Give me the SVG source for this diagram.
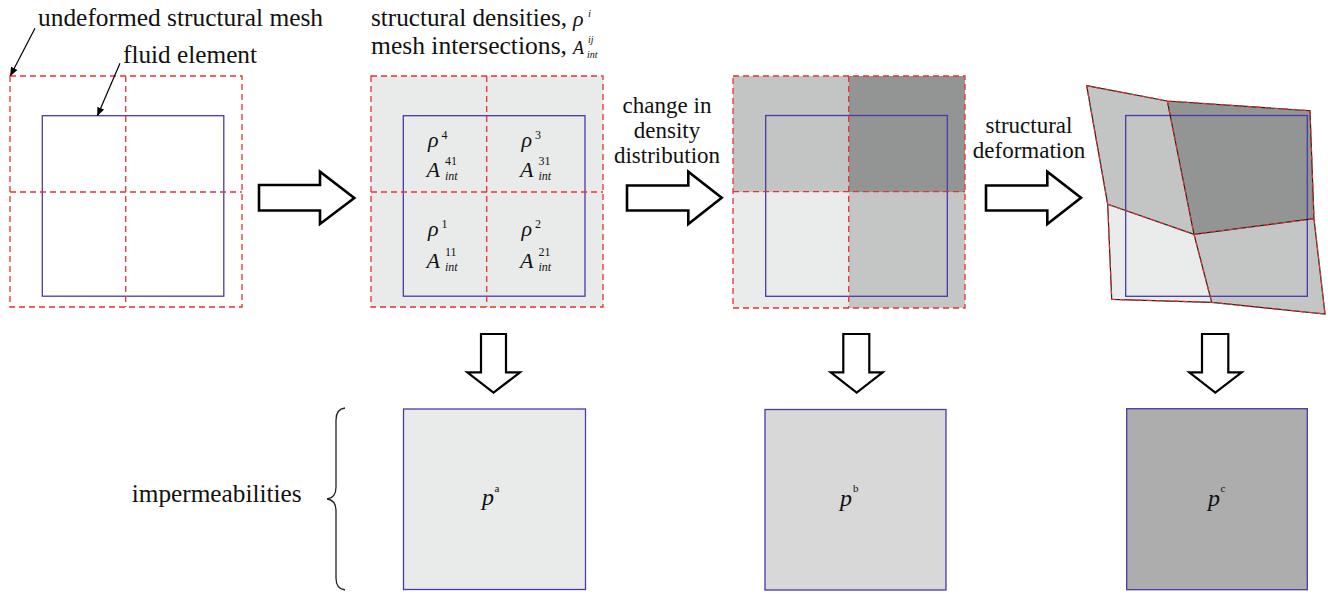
<svg xmlns="http://www.w3.org/2000/svg" width="1328" height="594" viewBox="0 0 1328 594">
<style>
text{font-family:'Liberation Serif','Times New Roman',serif;fill:#111}
.lbl{font-size:25px}
.mid{font-size:23px}
.it{font-style:italic}
.red{fill:none;stroke:#e8322e;stroke-width:1.3;stroke-dasharray:6 4}
.blue{fill:none;stroke:#4a3aa8;stroke-width:1.3}
.edge{fill:none;stroke:#222;stroke-width:1.2}
.edgered{fill:none;stroke:#e8322e;stroke-width:1.2;stroke-dasharray:5 4}
.bigarrow{fill:#fff;stroke:#000;stroke-width:2.6;stroke-linejoin:miter}
.downarrow{fill:#fff;stroke:#000;stroke-width:2.2;stroke-linejoin:miter}
.sym{font-size:22px;font-style:italic}
.sup{font-size:12px}
</style>
<defs>
<marker id="ah" viewBox="0 0 10 10" refX="9" refY="5" markerWidth="9" markerHeight="9" orient="auto" markerUnits="userSpaceOnUse">
<path d="M0,1 L10,5 L0,9 z" fill="#000"/>
</marker>
</defs>
<rect width="1328" height="594" fill="#fff"/>

<g id="panel1">
<rect class="blue" x="42.3" y="115.7" width="181.5" height="180.5"/>
<rect class="red" x="10" y="76" width="232" height="231"/>
<line class="red" x1="125.7" y1="76" x2="125.7" y2="307"/>
<line class="red" x1="10" y1="192" x2="242" y2="192"/>
<text class="lbl" x="38" y="26" textLength="285" lengthAdjust="spacingAndGlyphs">undeformed structural mesh</text>
<text class="lbl" x="123" y="63" textLength="134" lengthAdjust="spacingAndGlyphs">fluid element</text>
</g>

<g id="panel2">
<rect x="371" y="76" width="232" height="231" fill="#e9eaea"/>
<rect class="blue" x="403.3" y="115.7" width="181.7" height="180.5"/>
<rect class="red" x="371" y="76" width="232" height="231"/>
<line class="red" x1="486.7" y1="76" x2="486.7" y2="307"/>
<line class="red" x1="371" y1="192" x2="603" y2="192"/>
<text class="lbl" x="371" y="26" textLength="196" lengthAdjust="spacingAndGlyphs">structural densities,</text>
<text class="sym" x="573" y="26">ρ</text>
<text class="it" x="588" y="17" font-size="11">i</text>
<text class="lbl" x="371" y="54" textLength="196" lengthAdjust="spacingAndGlyphs">mesh intersections,</text>
<text class="it" x="573" y="54" font-size="18">A</text>
<text class="it" x="588" y="43" font-size="10">ij</text>
<text class="it" x="587" y="58" font-size="10">int</text>

<text class="sym" x="428" y="147">ρ</text>
<text class="sup" x="441.5" y="139">4</text>
<text class="it" x="426.5" y="177" font-size="22">A</text>
<text class="sup" x="445" y="165">41</text>
<text class="it" x="445" y="180" font-size="12">int</text>

<text class="sym" x="521.5" y="147">ρ</text>
<text class="sup" x="535" y="139">3</text>
<text class="it" x="520" y="177" font-size="22">A</text>
<text class="sup" x="538.5" y="165">31</text>
<text class="it" x="538.5" y="180" font-size="12">int</text>

<text class="sym" x="428" y="236">ρ</text>
<text class="sup" x="441.5" y="228">1</text>
<text class="it" x="426.5" y="268" font-size="22">A</text>
<text class="sup" x="445" y="256">11</text>
<text class="it" x="445" y="271" font-size="12">int</text>

<text class="sym" x="521.5" y="236">ρ</text>
<text class="sup" x="535" y="228">2</text>
<text class="it" x="520" y="268" font-size="22">A</text>
<text class="sup" x="538.5" y="256">21</text>
<text class="it" x="538.5" y="271" font-size="12">int</text>
</g>

<g id="panel3">
<rect x="733" y="76" width="116" height="116" fill="#c3c4c4"/>
<rect x="849" y="76" width="116" height="116" fill="#939494"/>
<rect x="733" y="192" width="116" height="116" fill="#eaebeb"/>
<rect x="849" y="192" width="116" height="116" fill="#c4c5c5"/>
<rect class="blue" x="765.7" y="115.5" width="181.6" height="180.8"/>
<rect class="red" x="733" y="76" width="232" height="232"/>
<line class="red" x1="848.7" y1="76" x2="848.7" y2="308"/>
<line class="red" x1="733" y1="191.7" x2="965" y2="191.7"/>
<text class="mid" x="667" y="113" text-anchor="middle">change in</text>
<text class="mid" x="667" y="138" text-anchor="middle">density</text>
<text class="mid" x="667" y="163" text-anchor="middle">distribution</text>
</g>

<g id="panel4">
<polygon points="1086.7,85.7 1167.3,101 1194,234.3 1107.7,204.3" fill="#c3c4c4"/>
<polygon points="1167.3,101 1310,110.7 1314,218.7 1194,234.3" fill="#939494"/>
<polygon points="1107.7,204.3 1194,234.3 1211.7,302.3 1111.7,299.3" fill="#eaebeb"/>
<polygon points="1194,234.3 1314,218.7 1325,314 1211.7,302.3" fill="#c4c5c5"/>
<rect class="blue" x="1125.7" y="115.5" width="181.6" height="180.8"/>
<path class="edge" d="M1086.7,85.7 L1167.3,101 L1310,110.7 L1314,218.7 L1325,314 L1211.7,302.3 L1111.7,299.3 L1107.7,204.3 Z M1167.3,101 L1194,234.3 L1211.7,302.3 M1107.7,204.3 L1194,234.3 L1314,218.7"/>
<path class="edgered" d="M1086.7,85.7 L1167.3,101 L1310,110.7 L1314,218.7 L1325,314 L1211.7,302.3 L1111.7,299.3 L1107.7,204.3 Z M1167.3,101 L1194,234.3 L1211.7,302.3 M1107.7,204.3 L1194,234.3 L1314,218.7"/>
<text class="mid" x="1029" y="133" text-anchor="middle">structural</text>
<text class="mid" x="1029" y="158" text-anchor="middle">deformation</text>
</g>

<g id="result-a">
<rect x="403.5" y="409" width="182" height="180.5" fill="#e9eaea" stroke="#4a3aa8" stroke-width="1.3"/>
<text class="it" x="482" y="505" font-size="24">p</text>
<text x="494.5" y="492" font-size="11">a</text>
</g>
<g id="result-b">
<rect x="765" y="409.5" width="181" height="180.5" fill="#d8d8d8" stroke="#4a3aa8" stroke-width="1.3"/>
<text class="it" x="840" y="506" font-size="24">p</text>
<text x="853" y="492" font-size="11">b</text>
</g>
<g id="result-c">
<rect x="1126.7" y="408.7" width="180.6" height="181" fill="#adadad" stroke="#4a3aa8" stroke-width="1.3"/>
<text class="it" x="1208" y="506" font-size="24">p</text>
<text x="1220.5" y="492" font-size="11">c</text>
</g>

<g id="impermeabilities">
<text class="lbl" x="131.7" y="502" textLength="170" lengthAdjust="spacingAndGlyphs">impermeabilities</text>
<path d="M345,408 Q336,409 336,420 L336,487 Q336,498 327,499 Q336,500 336,511 L336,578 Q336,589 345,590" fill="none" stroke="#222" stroke-width="1.3"/>
</g>

<g id="connectors">
<line x1="35" y1="28.3" x2="10.5" y2="75.5" stroke="#000" stroke-width="1.2" marker-end="url(#ah)"/>
<line x1="120" y1="63.3" x2="97.5" y2="115.5" stroke="#000" stroke-width="1.2" marker-end="url(#ah)"/>
<polygon class="bigarrow" points="259,185 320,185 320,171.7 354.3,198 320,224 320,210.5 259,210.5"/>
<polygon class="bigarrow" points="627,185.5 688.3,185.5 688.3,171.7 721.7,197.7 688.3,224 688.3,210.5 627,210.5"/>
<polygon class="bigarrow" points="986,185.5 1047.3,185.5 1047.3,171.7 1081,197.7 1047.3,224 1047.3,210.5 986,210.5"/>
<polygon class="downarrow" points="481,334 506,334 506,372.3 520,372.3 493.5,392.7 467.3,372.3 481,372.3"/>
<polygon class="downarrow" points="843.3,334 869.3,334 869.3,372.3 882.7,372.3 856.7,392.7 830.7,372.3 843.3,372.3"/>
<polygon class="downarrow" points="1202,334 1228.3,334 1228.3,372.3 1241.7,372.3 1215.3,392.7 1189.3,372.3 1202,372.3"/>
</g>
</svg>
